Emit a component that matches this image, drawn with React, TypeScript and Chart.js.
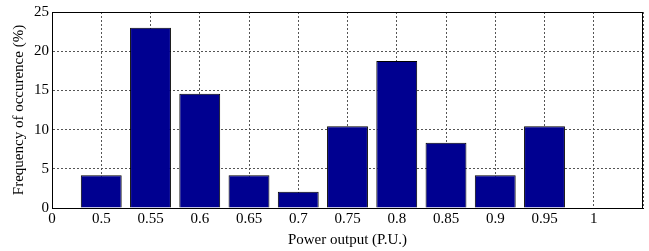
import React, { useEffect, useRef } from "react";
import { Chart, registerables } from "chart.js";

Chart.register(...registerables);

const tickLabels = ["0", "0.5", "0.55", "0.6", "0.65", "0.7", "0.75", "0.8", "0.85", "0.9", "0.95", "1", ""];
const categories = ["0.5", "0.55", "0.6", "0.65", "0.7", "0.75", "0.8", "0.85", "0.9", "0.95"];
const frequencies = [4.17, 23.0, 14.58, 4.17, 2.08, 10.42, 18.75, 8.33, 4.17, 10.42];
const yTicks = [0, 5, 10, 15, 20, 25];

const FONT = "'Liberation Serif', 'Times New Roman', serif";

const boxPlugin = {
  id: "box",
  afterDraw(chart: any) {
    const { ctx, chartArea } = chart;
    ctx.save();
    ctx.strokeStyle = "#000";
    ctx.lineWidth = 1;
    ctx.setLineDash([]);
    ctx.strokeRect(
      Math.round(chartArea.left) + 0.5,
      Math.round(chartArea.top) + 0.5,
      Math.round(chartArea.right - chartArea.left) - 1,
      Math.round(chartArea.bottom - chartArea.top)
    );
    ctx.restore();
  },
};

export default function App() {
  const ref = useRef<HTMLCanvasElement | null>(null);

  useEffect(() => {
    document.body.style.margin = "0";
    const canvas = ref.current;
    if (!canvas) return;
    const data = categories.map((c, i) => ({ x: tickLabels.indexOf(c), y: frequencies[i] }));
    const chart = new Chart(canvas, {
      type: "bar",
      data: {
        datasets: [
          {
            data: data as any,
            backgroundColor: "#000090",
            borderColor: "#000000",
            borderWidth: 1,
            barPercentage: 0.83,
            categoryPercentage: 1,
          },
        ],
      },
      plugins: [boxPlugin],
      options: {
        animation: false,
        responsive: false,
        maintainAspectRatio: false,
        layout: { padding: { left: 0, right: 6, top: 11, bottom: 0 } },
        plugins: { legend: { display: false }, tooltip: { enabled: false } },
        scales: {
          x: {
            type: "linear",
            min: 0,
            max: tickLabels.length - 1,
            offset: false,
            afterFit: (s: any) => {
              s.height = 43;
            },
            afterBuildTicks: (s: any) => {
              s.ticks = tickLabels.map((_, i) => ({ value: i }));
            },
            ticks: {
              stepSize: 1,
              autoSkip: false,
              maxRotation: 0,
              padding: 2,
              color: "#000",
              font: { family: FONT, size: 15 },
              callback: (v: any) => tickLabels[Math.round(Number(v))] ?? "",
            },
            grid: {
              offset: false,
              color: "#555",
              lineWidth: 1,
              drawTicks: false,
            },
            border: { display: true, color: "#000", dash: [2, 2] },
            title: {
              display: true,
              text: "Power output (P.U.)",
              color: "#000",
              font: { family: FONT, size: 15 },
              padding: { top: 0, bottom: 2 },
            },
          },
          y: {
            min: 0,
            max: 25,
            afterFit: (s: any) => {
              s.width = 52;
            },
            afterBuildTicks: (s: any) => {
              s.ticks = yTicks.map((v) => ({ value: v }));
            },
            ticks: {
              stepSize: 5,
              padding: 3,
              color: "#000",
              font: { family: FONT, size: 15 },
            },
            grid: {
              color: "#555",
              lineWidth: 1,
              drawTicks: false,
            },
            border: { display: true, color: "#000", dash: [2, 2] },
            title: {
              display: true,
              text: "Frequency of occurence (%)",
              color: "#000",
              font: { family: FONT, size: 15 },
              padding: { top: 10, bottom: 0 },
            },
          },
        },
      },
    });
    return () => chart.destroy();
  }, []);

  return (
    <div style={{ width: 649, height: 251 }}>
      <canvas ref={ref} width={649} height={251} style={{ display: "block" }} />
    </div>
  );
}
